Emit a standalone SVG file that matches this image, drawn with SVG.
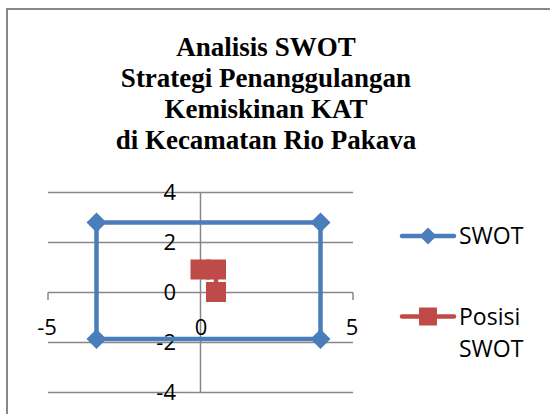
<svg xmlns="http://www.w3.org/2000/svg" width="550" height="414" viewBox="0 0 550 414">
<style>
.grid{stroke:#878787;stroke-width:1.5;fill:none}
.title{font-family:"Liberation Serif",serif;font-weight:bold;font-size:27px;fill:#000;text-anchor:middle}
.lab{font-family:"Open Sans","Liberation Sans",sans-serif;font-size:22px;fill:#000}
.leg{font-size:23px}
.yl{text-anchor:end}
.xl{text-anchor:middle}
.blue{stroke:#4A7EBB;stroke-width:4.5;fill:none;stroke-linejoin:round;stroke-linecap:round}
.red{stroke:#BE4B48;stroke-width:4.5;fill:none;stroke-linejoin:round;stroke-linecap:round}
.dia{fill:#4A7EBB}
.sq{fill:#BE4B48}
</style>
<defs>
<path id="d" d="M0,-10 L10,0 L0,10 L-10,0 Z"/>
<rect id="s" x="-10" y="-10" width="20" height="20"/>
</defs>
<rect x="7" y="9" width="600" height="450" fill="#fff" stroke="#878787" stroke-width="2"/>
<g id="title">
<text class="title" x="266" y="55.5">Analisis SWOT</text>
<text class="title" x="266" y="86.5">Strategi Penanggulangan</text>
<text class="title" x="266" y="117.5">Kemiskinan KAT</text>
<text class="title" x="266" y="148.5">di Kecamatan Rio Pakava</text>
</g>
<g id="grid">
<line class="grid" x1="48" y1="192.5" x2="353" y2="192.5"/>
<line class="grid" x1="48" y1="242.5" x2="353" y2="242.5"/>
<line class="grid" x1="48" y1="292.5" x2="353" y2="292.5"/>
<line class="grid" x1="48" y1="342.5" x2="353" y2="342.5"/>
<line class="grid" x1="48" y1="392.5" x2="353" y2="392.5"/>
<line class="grid" x1="200.5" y1="192.5" x2="200.5" y2="392.5"/>
<line class="grid" x1="48" y1="292.5" x2="48" y2="300"/>
<line class="grid" x1="353" y1="292.5" x2="353" y2="300"/>
</g>
<g id="axis-labels">
<text class="lab yl" x="176" y="200">4</text>
<text class="lab yl" x="176" y="250">2</text>
<text class="lab yl" x="176" y="300">0</text>
<text class="lab yl" x="176" y="350">-2</text>
<text class="lab yl" x="176" y="400">-4</text>
<text class="lab xl" x="47" y="335">-5</text>
<text class="lab xl" x="201" y="335">0</text>
<text class="lab xl" x="352" y="335">5</text>
</g>
<g id="series-swot">
<path class="blue" d="M96.5,222.5 L320.5,222.5 L320.5,339 L96.5,339 Z"/>
<use href="#d" class="dia" x="96.5" y="222.5"/>
<use href="#d" class="dia" x="320.5" y="222.5"/>
<use href="#d" class="dia" x="320.5" y="339"/>
<use href="#d" class="dia" x="96.5" y="339"/>
</g>
<g id="series-posisi">
<path class="red" d="M200.5,269.5 L216,269.5 L216,292"/>
<use href="#s" class="sq" x="200.5" y="269.5"/>
<use href="#s" class="sq" x="216" y="269.5"/>
<use href="#s" class="sq" x="216" y="292"/>
</g>
<g id="legend">
<line class="blue" x1="402" y1="236" x2="454" y2="236"/>
<path class="dia" d="M428,227.5 L436.5,236 L428,244.5 L419.5,236 Z"/>
<text class="lab leg" x="459" y="244">SWOT</text>
<line class="red" x1="402" y1="316.5" x2="454" y2="316.5"/>
<rect class="sq" x="419" y="307.5" width="18" height="18"/>
<text class="lab leg" x="459" y="325">Posisi</text>
<text class="lab leg" x="459" y="357">SWOT</text>
</g>
</svg>
